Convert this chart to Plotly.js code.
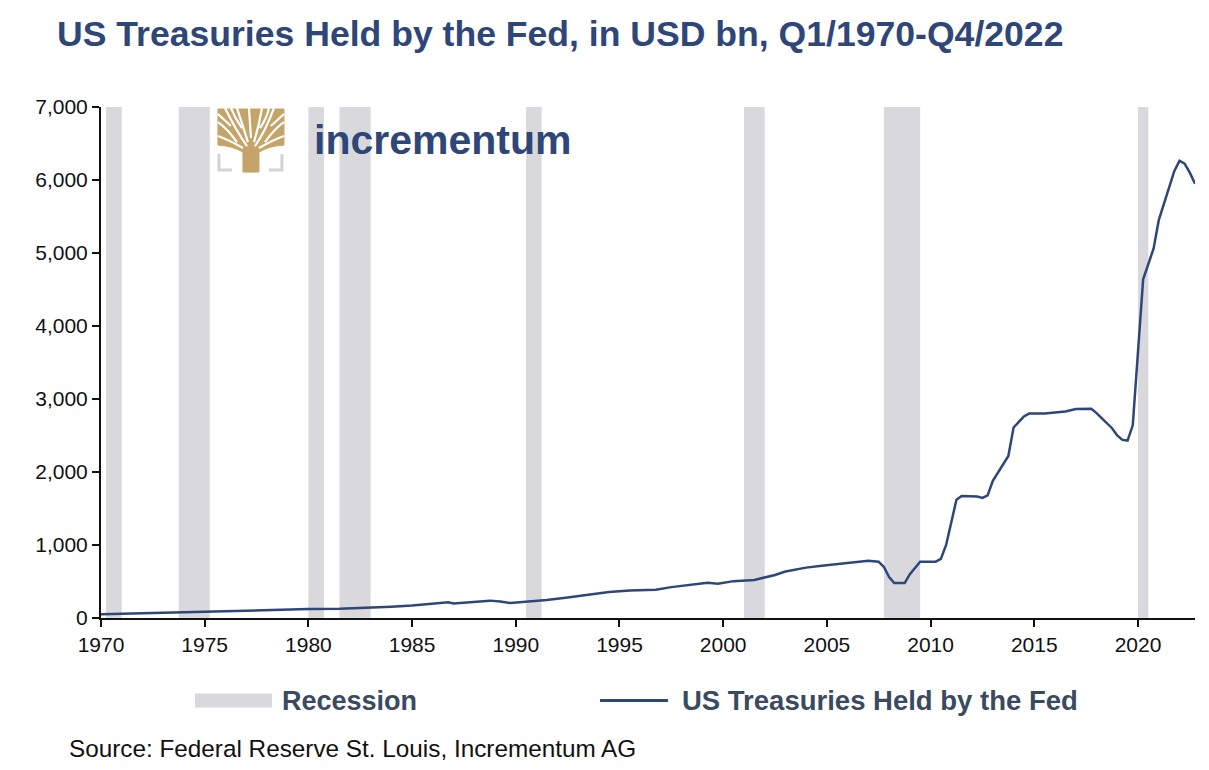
<!DOCTYPE html>
<html>
<head>
<meta charset="utf-8">
<script src="https://cdn.plot.ly/plotly-3.0.1.min.js"></script>
<style>
  html, body { margin: 0; padding: 0; background: #fff; }
  #chart { width: 1209px; height: 770px; }
</style>
</head>
<body>
<div id="chart"></div>
<script>
// Fed holdings of US Treasuries, USD bn
const dates = [
  '1970-01-01', '1971-01-01', '1972-01-01', '1973-01-01', '1974-01-01', '1975-01-01',
  '1976-01-01', '1977-01-01', '1978-07-01', '1980-01-01', '1981-07-01', '1983-01-01',
  '1984-01-01', '1985-01-01', '1986-01-01', '1986-10-01', '1987-01-01', '1988-01-01',
  '1988-10-01', '1989-04-01', '1989-10-01', '1990-10-01', '1991-07-01', '1992-07-01',
  '1993-07-01', '1994-07-01', '1995-07-01', '1996-10-01', '1997-07-01', '1998-07-01',
  '1999-04-01', '1999-10-01', '2000-07-01', '2001-07-01', '2002-07-01', '2003-01-01',
  '2004-01-01', '2004-10-01', '2005-07-01', '2006-07-01', '2007-01-01', '2007-07-01',
  '2007-10-01', '2008-01-01', '2008-04-01', '2008-10-01', '2009-01-01', '2009-07-01',
  '2010-04-01', '2010-07-01', '2010-10-01', '2011-04-01', '2011-07-01', '2012-04-01',
  '2012-07-01', '2012-10-01', '2013-01-01', '2013-10-01', '2014-01-01', '2014-07-01',
  '2014-10-01', '2015-07-01', '2016-07-01', '2017-01-01', '2017-10-01', '2018-01-01',
  '2018-10-01', '2019-01-01', '2019-04-01', '2019-07-01', '2019-10-01', '2020-04-01',
  '2020-07-01', '2020-10-01', '2021-01-01', '2021-07-01', '2021-10-01', '2022-01-01',
  '2022-04-01', '2022-07-01', '2022-10-01'
];
const treasuries = [
  50, 58, 65, 70, 76, 80,
  90, 98, 110, 122, 128, 140,
  155, 170, 190, 215, 200, 220,
  238, 225, 205, 230, 245, 280,
  320, 355, 375, 388, 423, 455,
  482, 470, 505, 520, 590, 637,
  690, 715, 735, 770, 785, 770,
  700, 560, 478, 478, 600, 770,
  772, 810, 1000, 1620, 1670, 1665,
  1645, 1680, 1880, 2220, 2610, 2760,
  2800, 2800, 2830, 2862, 2865, 2806,
  2600, 2500, 2440, 2430, 2640, 4640,
  4850, 5060, 5450, 5900, 6120, 6265,
  6225, 6100, 5950
];

// NBER recessions (start, end)
const recessionStart = ['1970-04-01', '1973-10-01', '1980-01-01', '1981-07-01', '1990-07-01', '2001-01-01', '2007-10-01', '2020-01-01'];
const recessionEnd   = ['1971-01-01', '1975-04-01', '1980-10-01', '1983-01-01', '1991-04-01', '2002-01-01', '2009-07-01', '2020-07-01'];

const yTicks = [0, 1000, 2000, 3000, 4000, 5000, 6000, 7000];

const NAVY = '#2f4678';
const SLATE = '#3a4a5f';
const BAND = '#d9d8dc';
const GOLD = '#c4a468';
const FONT = 'Arial, "Liberation Sans", Helvetica, sans-serif';

let shapes = [];
for (let i = 0; i < recessionStart.length; i++) {
  shapes.push({
    type: 'rect', xref: 'x', yref: 'y', layer: 'below',
    x0: recessionStart[i], x1: recessionEnd[i], y0: 0, y1: 7000,
    fillcolor: BAND, line: {width: 0},
  });
}

// legend swatches (drawn by hand so the widths match)
shapes.push({type: 'rect', xref: 'paper', yref: 'paper',
  x0: 0.0859, x1: 0.1563, y0: -0.1753, y1: -0.1479,
  fillcolor: BAND, line: {width: 0}});
shapes.push({type: 'line', xref: 'paper', yref: 'paper',
  x0: 0.4561, x1: 0.5183, y0: -0.1616, y1: -0.1616,
  line: {color: NAVY, width: 3}});

// logo: a tree between two brackets, pixel offsets from its lower left corner
const logoX = 0.106, logoY = 0.8727;
function logo_path(path, color, width, fill) {
  shapes.push({
    type: 'path', xref: 'paper', yref: 'paper',
    xsizemode: 'pixel', ysizemode: 'pixel', xanchor: logoX, yanchor: logoY,
    path: path, fillcolor: fill ? color : 'rgba(0,0,0,0)',
    line: {color: color, width: width},
  });
}
logo_path('M2,18 L2,2 L15,2', '#d3d3d6', 3, false);
logo_path('M65,18 L65,2 L52,2', '#d3d3d6', 3, false);
// trunk and canopy
logo_path('M26,0 L42,0 L42,20 Q52,26 67,27 L67,63 L1,63 L1,27 Q16,26 26,20 Z', GOLD, 1, true);
// white gaps between the branches
const gaps = [
  'M30,26 Q20,40 8,64', 'M31,30 Q26,46 20,64', 'M34,34 Q33,50 32,64',
  'M37,30 Q42,46 45,64', 'M38,26 Q48,40 57,64',
  'M26,24 Q12,32 1,36', 'M42,24 Q56,32 67,36',
  'M20,30 Q10,44 1,50', 'M48,30 Q58,44 67,50',
  'M14,46 L1,58', 'M54,46 L67,58', 'M25,44 Q18,54 14,64', 'M43,44 Q50,54 52,64',
];
gaps.forEach(p => logo_path(p, '#ffffff', 2.2, false));

const traces = [{
  type: 'scatter', mode: 'lines',
  x: dates, y: treasuries,
  name: 'US Treasuries Held by the Fed',
  line: {color: NAVY, width: 2.5},
  hoverinfo: 'skip',
}];

const layout = {
  width: 1209, height: 770,
  paper_bgcolor: '#fff', plot_bgcolor: 'rgba(0,0,0,0)',
  margin: {l: 101, r: 14, t: 107, b: 152, pad: 0},
  showlegend: false,
  title: {
    text: '<b>US Treasuries Held by the Fed, in USD bn, Q1/1970-Q4/2022</b>',
    font: {family: FONT, size: 35.6, color: NAVY},
    xref: 'container', yref: 'container', x: 57 / 1209, xanchor: 'left', y: 1 - 34 / 770, yanchor: 'middle',
  },
  xaxis: {
    type: 'date', range: ['1970-01-01', '2022-10-01'],
    tick0: '1970-01-01', dtick: 'M60', tickformat: '%Y',
    ticks: 'outside', ticklen: 7, tickwidth: 2, tickcolor: '#111',
    showline: true, linecolor: '#111', linewidth: 2,
    showgrid: false, zeroline: false,
    tickfont: {family: FONT, size: 21, color: '#111'},
  },
  yaxis: {
    range: [0, 7000], tickvals: yTicks, tickformat: ',',
    ticks: 'outside', ticklen: 7, tickwidth: 2, tickcolor: '#111',
    showline: true, linecolor: '#111', linewidth: 2,
    showgrid: false, zeroline: false,
    tickfont: {family: FONT, size: 21, color: '#111'},
  },
  shapes: shapes,
  annotations: [
    {xref: 'paper', yref: 'paper', x: 0.1636, y: -0.1616, xanchor: 'left', yanchor: 'middle',
     text: '<b>Recession</b>', showarrow: false, font: {family: FONT, size: 27, color: SLATE}},
    {xref: 'paper', yref: 'paper', x: 0.5293, y: -0.1616, xanchor: 'left', yanchor: 'middle',
     text: '<b>US Treasuries Held by the Fed</b>', showarrow: false, font: {family: FONT, size: 27.5, color: SLATE}},
    {xref: 'paper', yref: 'paper', x: (312 - 101) / 1094, y: (617.5 - 140) / 510.5, xanchor: 'left', yanchor: 'middle',
     text: '<b>incrementum</b>', showarrow: false, font: {family: FONT, size: 41, color: NAVY}},
    {xref: 'paper', yref: 'paper', x: (67 - 101) / 1094, y: (617.5 - 748) / 510.5, xanchor: 'left', yanchor: 'middle',
     text: 'Source: Federal Reserve St. Louis, Incrementum AG', showarrow: false, font: {family: FONT, size: 24.3, color: '#111'}},
  ],
};

Plotly.newPlot('chart', traces, layout, {displayModeBar: false, staticPlot: true});
</script>
</body>
</html>
